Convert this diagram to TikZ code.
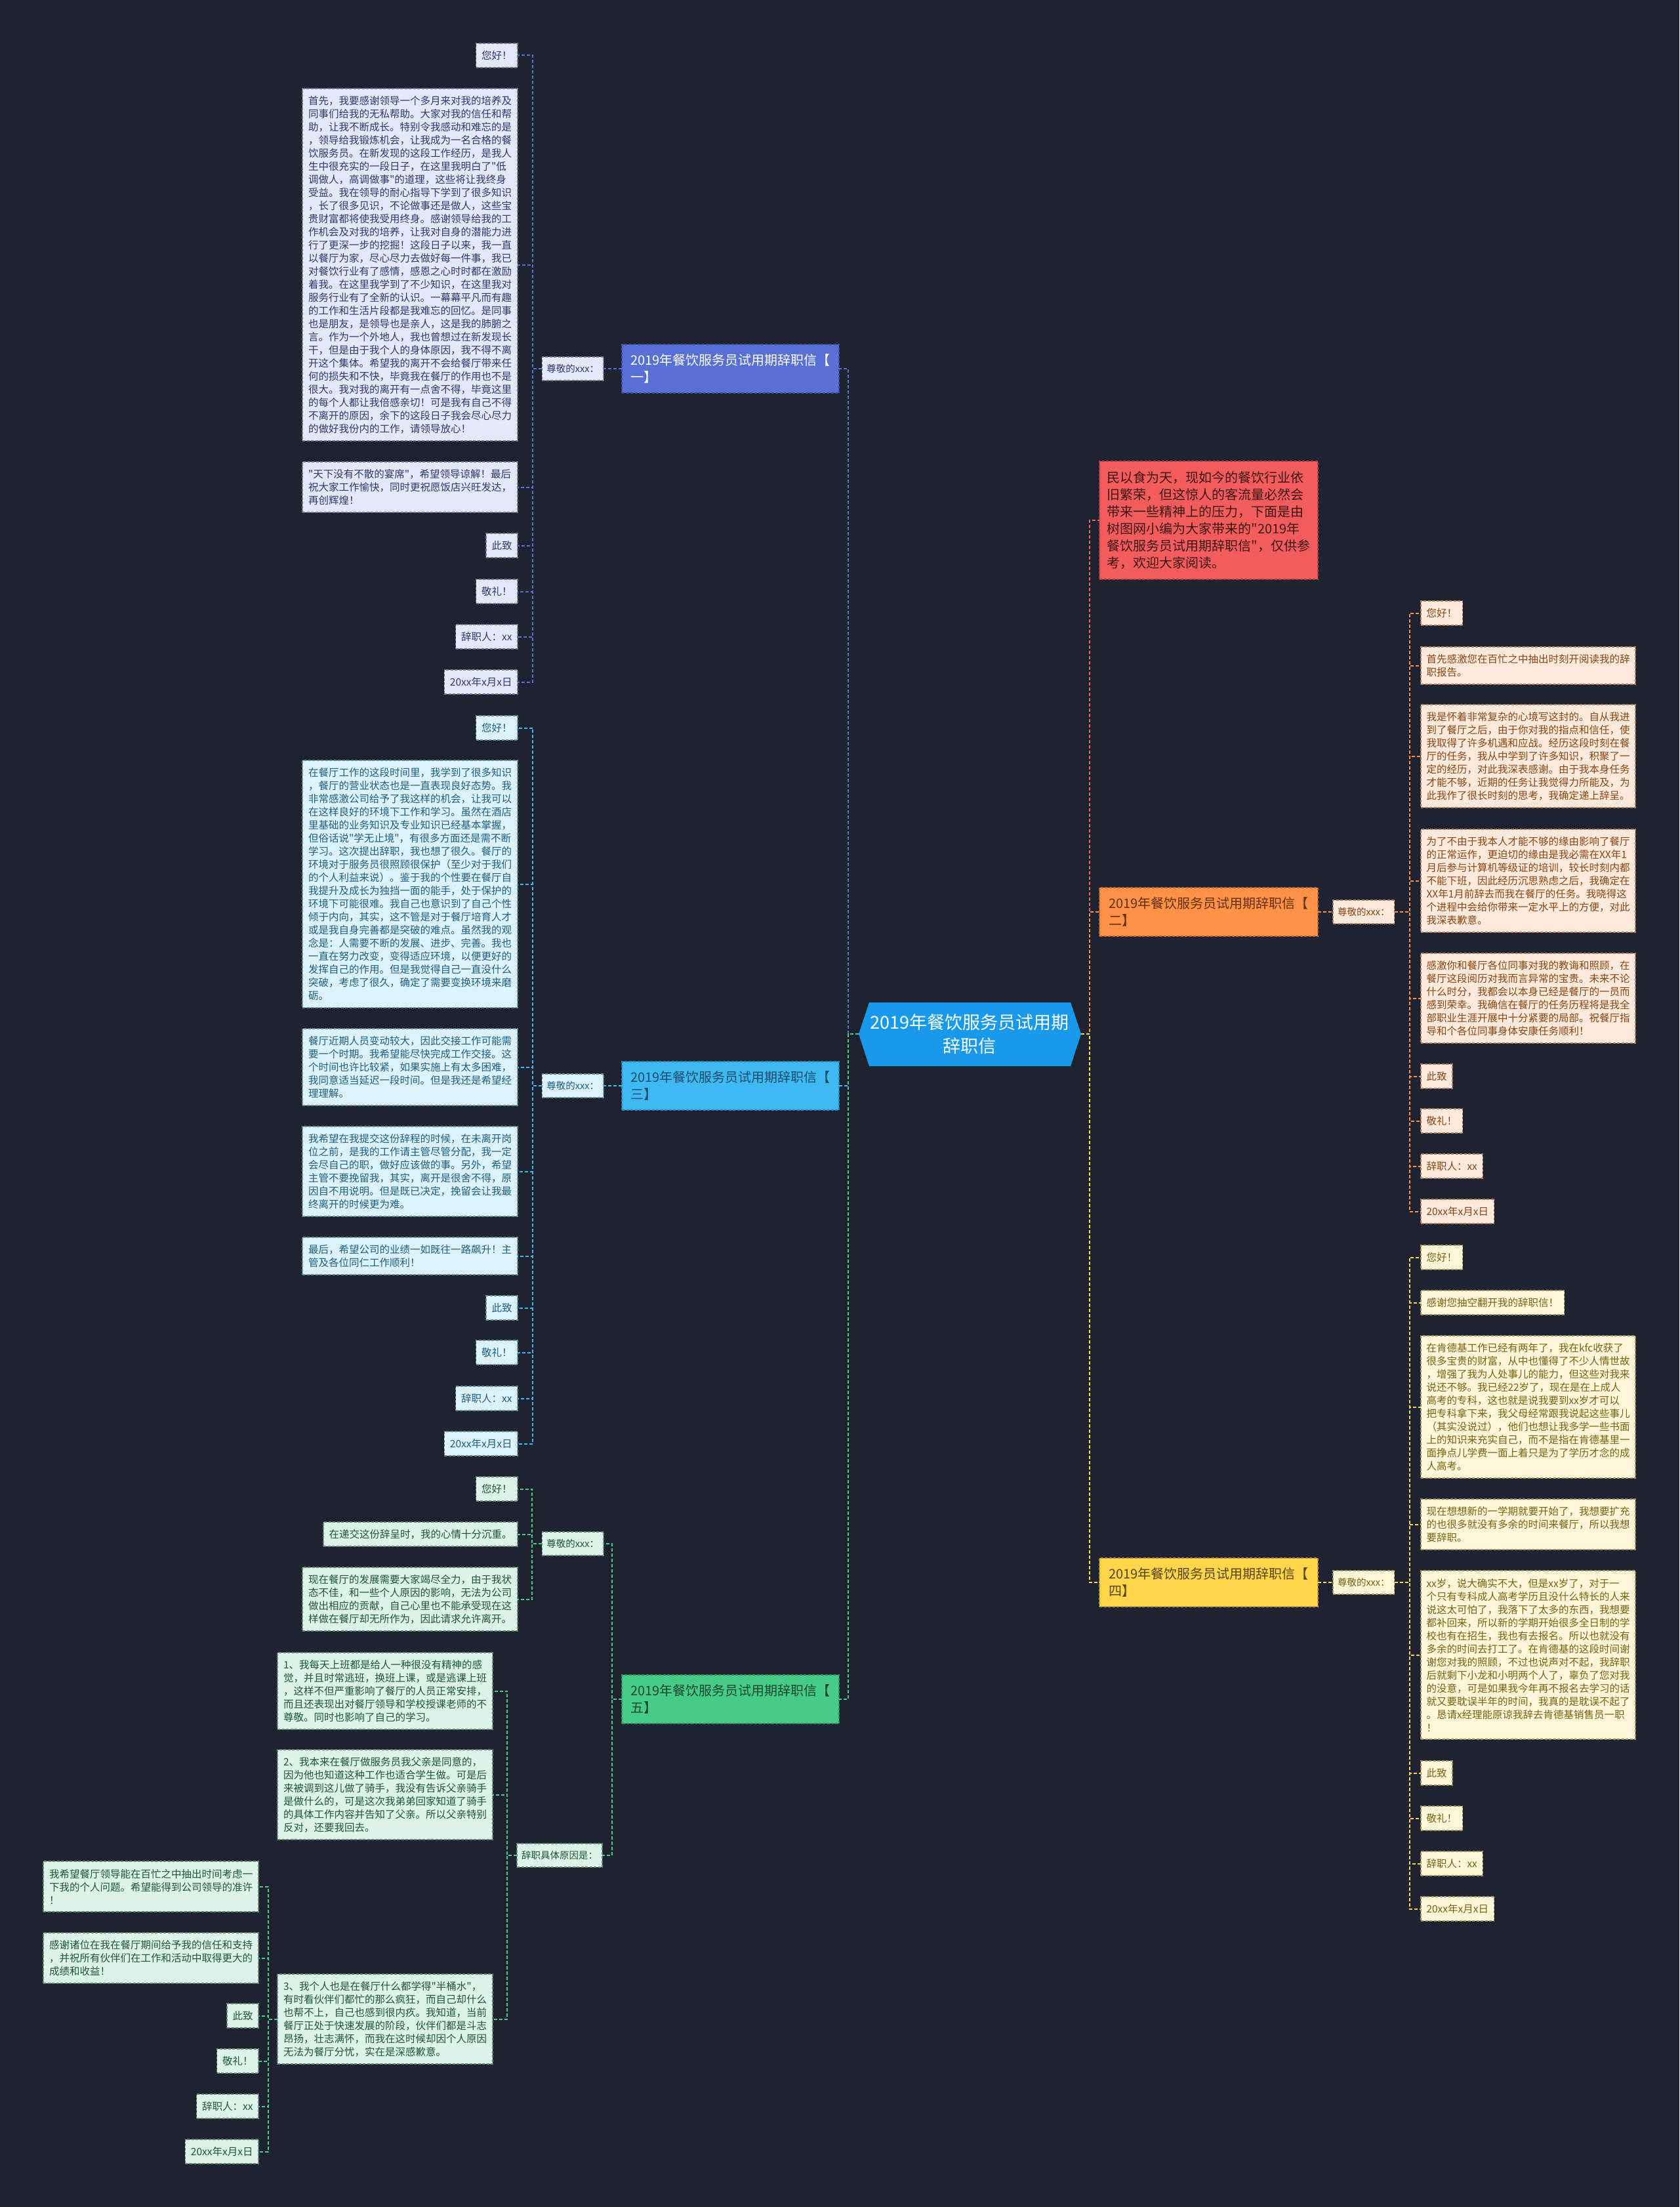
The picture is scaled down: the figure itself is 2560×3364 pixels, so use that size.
\documentclass[tikz,border=0pt]{standalone}
\usepackage{fontspec}
\setmainfont{Noto Sans CJK SC}
\newfontfamily\cjkf{Noto Sans CJK SC}
\definecolor{bg}{HTML}{1F2331}
\definecolor{ccenter}{HTML}{1899EB}
\definecolor{c1}{HTML}{586FD6}
\definecolor{c1leaf}{HTML}{E4E8F8}
\definecolor{c1text}{HTML}{2E3A70}
\definecolor{c3}{HTML}{3EB9F3}
\definecolor{c3leaf}{HTML}{DDF3FC}
\definecolor{c3text}{HTML}{1F5F80}
\definecolor{c5}{HTML}{45CC87}
\definecolor{c5leaf}{HTML}{DCF5E8}
\definecolor{c5text}{HTML}{1F5538}
\definecolor{cred}{HTML}{F25C5C}
\definecolor{credtext}{HTML}{3D1414}
\definecolor{c2}{HTML}{FF9247}
\definecolor{c2leaf}{HTML}{FDEADC}
\definecolor{c2text}{HTML}{8A4513}
\definecolor{c4}{HTML}{FFD64A}
\definecolor{c4leaf}{HTML}{FDF6D9}
\definecolor{c4text}{HTML}{7A6212}
\newcommand\mkleaf[7]{\node[#1,minimum width=#5pt,minimum height=#6pt] (#2) at (#3,#4) {#7};}
\begin{document}
\begin{tikzpicture}[x=1pt,y=-1pt,
  base/.style={draw, dash pattern=on 4pt off 2.5pt, line width=1.2pt, outer sep=0pt,
    inner xsep=8.5pt, inner ysep=3pt, align=left, font=\cjkf\fontsize{15.5}{20}\selectfont},
  Lone/.style={base, anchor=north east, fill=c1leaf, draw=c1text!70, text=c1text},
  Lthree/.style={base, anchor=north east, fill=c3leaf, draw=c3text!70, text=c3text},
  Lfive/.style={base, anchor=north east, fill=c5leaf, draw=c5text!70, text=c5text},
  Rtwo/.style={base, anchor=north west, fill=c2leaf, draw=c2text!70, text=c2text},
  Rfour/.style={base, anchor=north west, fill=c4leaf, draw=c4text!70, text=c4text},
  small/.style={base, font=\cjkf\fontsize{14.5}{18}\selectfont, minimum height=36pt, inner xsep=7pt},
  branch/.style={draw, dash pattern=on 4pt off 2.5pt, line width=1.2pt, outer sep=0pt,
    inner xsep=11pt, inner ysep=3pt, align=left, font=\cjkf\fontsize{20}{26}\selectfont,
    minimum width=331pt, minimum height=74pt},
  cn/.style={dash pattern=on 5pt off 3pt, line width=2pt},
]
\useasboundingbox (0,0) rectangle (2560,3364);
\fill[bg] (0,0) rectangle (2560,3364);

% ---------- center ----------
\fill[ccenter] (1325,1528) -- (1632,1528) -- (1648,1576) -- (1632,1625) -- (1325,1625) -- (1309,1576) -- cycle;
\node[minimum width=339pt, minimum height=97pt, inner sep=0pt, outer sep=0pt, align=center,
  text=white, font=\cjkf\fontsize{27}{36}\selectfont] (c) at (1478,1576) {2019年餐饮服务员试用期\\辞职信};

% ---------- branches ----------
\node[branch, anchor=north west, fill=c1, draw=c1!70!black, text=white] (b1) at (948,525) {2019年餐饮服务员试用期辞职信【\\一】};
\node[branch, anchor=north west, fill=c3, draw=c3!70!black, text=c3text!80!black] (b3) at (948,1618) {2019年餐饮服务员试用期辞职信【\\三】};
\node[branch, anchor=north west, fill=c5, draw=c5!70!black, text=c5text!80!black] (b5) at (948,2553) {2019年餐饮服务员试用期辞职信【\\五】};
\node[branch, anchor=north west, fill=c2, draw=c2!70!black, text=c2text!70!black, minimum width=333pt] (b2) at (1676,1353) {2019年餐饮服务员试用期辞职信【\\二】};
\node[branch, anchor=north west, fill=c4, draw=c4!70!black, text=c4text!70!black, minimum width=333pt] (b4) at (1676,2375) {2019年餐饮服务员试用期辞职信【\\四】};
\node[branch, anchor=north west, fill=cred, draw=cred!70!black, text=credtext, minimum width=333pt, minimum height=180pt] (red) at (1676,703) {民以食为天，现如今的餐饮行业依\\旧繁荣，但这惊人的客流量必然会\\带来一些精神上的压力，下面是由\\树图网小编为大家带来的"2019年\\餐饮服务员试用期辞职信"，仅供参\\考，欢迎大家阅读。};

% ---------- small intermediate nodes ----------
\node[small, anchor=east, fill=c1leaf, draw=c1text!70, text=c1text] (z1) at (920,562) {尊敬的xxx：};
\node[small, anchor=east, fill=c3leaf, draw=c3text!70, text=c3text] (z3) at (920,1655) {尊敬的xxx：};
\node[small, anchor=east, fill=c5leaf, draw=c5text!70, text=c5text] (z5) at (920,2353) {尊敬的xxx：};
\node[small, anchor=east, fill=c5leaf, draw=c5text!70, text=c5text] (why) at (918,2828) {辞职具体原因是：};
\node[small, anchor=west, fill=c2leaf, draw=c2text!70, text=c2text] (z2) at (2032,1390) {尊敬的xxx：};
\node[small, anchor=west, fill=c4leaf, draw=c4text!70, text=c4text] (z4) at (2032,2412) {尊敬的xxx：};

% ---------- branch one leaves ----------
\mkleaf{Lone}{na1}{789}{66}{0}{37}{您好！}
\mkleaf{Lone}{na2}{789}{135}{328}{537}{首先，我要感谢领导一个多月来对我的培养及\\同事们给我的无私帮助。大家对我的信任和帮\\助，让我不断成长。特别令我感动和难忘的是\\，领导给我锻炼机会，让我成为一名合格的餐\\饮服务员。在新发现的这段工作经历，是我人\\生中很充实的一段日子，在这里我明白了"低\\调做人，高调做事"的道理，这些将让我终身\\受益。我在领导的耐心指导下学到了很多知识\\，长了很多见识，不论做事还是做人，这些宝\\贵财富都将使我受用终身。感谢领导给我的工\\作机会及对我的培养，让我对自身的潜能力进\\行了更深一步的挖掘！这段日子以来，我一直\\以餐厅为家，尽心尽力去做好每一件事，我已\\对餐饮行业有了感情，感恩之心时时都在激励\\着我。在这里我学到了不少知识，在这里我对\\服务行业有了全新的认识。一幕幕平凡而有趣\\的工作和生活片段都是我难忘的回忆。是同事\\也是朋友，是领导也是亲人，这是我的肺腑之\\言。作为一个外地人，我也曾想过在新发现长\\干，但是由于我个人的身体原因，我不得不离\\开这个集体。希望我的离开不会给餐厅带来任\\何的损失和不快，毕竟我在餐厅的作用也不是\\很大。我对我的离开有一点舍不得，毕竟这里\\的每个人都让我倍感亲切！可是我有自己不得\\不离开的原因，余下的这段日子我会尽心尽力\\的做好我份内的工作，请领导放心！}
\mkleaf{Lone}{na3}{789}{704}{328}{77}{"天下没有不散的宴席"，希望领导谅解！最后\\祝大家工作愉快，同时更祝愿饭店兴旺发达，\\再创辉煌！}
\mkleaf{Lone}{na4}{789}{813}{0}{37}{此致}
\mkleaf{Lone}{na5}{789}{883}{0}{37}{敬礼！}
\mkleaf{Lone}{na6}{789}{952}{0}{37}{辞职人：xx}
\mkleaf{Lone}{na7}{789}{1021}{0}{37}{20xx年x月x日}

% ---------- branch three leaves ----------
\mkleaf{Lthree}{nc1}{789}{1091}{0}{37}{您好！}
\mkleaf{Lthree}{nc2}{789}{1159}{328}{377}{在餐厅工作的这段时间里，我学到了很多知识\\，餐厅的营业状态也是一直表现良好态势。我\\非常感激公司给予了我这样的机会，让我可以\\在这样良好的环境下工作和学习。虽然在酒店\\里基础的业务知识及专业知识已经基本掌握，\\但俗话说"学无止境"，有很多方面还是需不断\\学习。这次提出辞职，我也想了很久。餐厅的\\环境对于服务员很照顾很保护（至少对于我们\\的个人利益来说）。鉴于我的个性要在餐厅自\\我提升及成长为独挡一面的能手，处于保护的\\环境下可能很难。我自己也意识到了自己个性\\倾于内向，其实，这不管是对于餐厅培育人才\\或是我自身完善都是突破的难点。虽然我的观\\念是：人需要不断的发展、进步、完善。我也\\一直在努力改变，变得适应环境，以便更好的\\发挥自己的作用。但是我觉得自己一直没什么\\突破，考虑了很久，确定了需要变换环境来磨\\砺。}
\mkleaf{Lthree}{nc3}{789}{1568}{328}{117}{餐厅近期人员变动较大，因此交接工作可能需\\要一个时期。我希望能尽快完成工作交接。这\\个时间也许比较紧，如果实施上有太多困难，\\我同意适当延迟一段时间。但是我还是希望经\\理理解。}
\mkleaf{Lthree}{nc4}{789}{1717}{328}{137}{我希望在我提交这份辞程的时候，在未离开岗\\位之前，是我的工作请主管尽管分配，我一定\\会尽自己的职，做好应该做的事。另外，希望\\主管不要挽留我，其实，离开是很舍不得，原\\因自不用说明。但是既已决定，挽留会让我最\\终离开的时候更为难。}
\mkleaf{Lthree}{nc5}{789}{1886}{328}{57}{最后，希望公司的业绩一如既往一路飙升！主\\管及各位同仁工作顺利！}
\mkleaf{Lthree}{nc6}{789}{1975}{0}{37}{此致}
\mkleaf{Lthree}{nc7}{789}{2043}{0}{37}{敬礼！}
\mkleaf{Lthree}{nc8}{789}{2113}{0}{37}{辞职人：xx}
\mkleaf{Lthree}{nc9}{789}{2182}{0}{37}{20xx年x月x日}

% ---------- branch five leaves ----------
\mkleaf{Lfive}{ne1}{789}{2251}{0}{37}{您好！}
\mkleaf{Lfive}{ne2}{789}{2320}{0}{37}{在递交这份辞呈时，我的心情十分沉重。}
\mkleaf{Lfive}{ne3}{789}{2389}{328}{97}{现在餐厅的发展需要大家竭尽全力，由于我状\\态不佳，和一些个人原因的影响，无法为公司\\做出相应的贡献，自己心里也不能承受现在这\\样做在餐厅却无所作为，因此请求允许离开。}
\mkleaf{Lfive}{r1}{751}{2519}{328}{117}{1、我每天上班都是给人一种很没有精神的感\\觉，并且时常逃班，换班上课，或是逃课上班\\，这样不但严重影响了餐厅的人员正常安排，\\而且还表现出对餐厅领导和学校授课老师的不\\尊敬。同时也影响了自己的学习。}
\mkleaf{Lfive}{r2}{751}{2667}{328}{137}{2、我本来在餐厅做服务员我父亲是同意的，\\因为他也知道这种工作也适合学生做。可是后\\来被调到这儿做了骑手，我没有告诉父亲骑手\\是做什么的，可是这次我弟弟回家知道了骑手\\的具体工作内容并告知了父亲。所以父亲特别\\反对，还要我回去。}
\mkleaf{Lfive}{r3}{751}{3009}{328}{137}{3、我个人也是在餐厅什么都学得"半桶水"，\\有时看伙伴们都忙的那么疯狂，而自己却什么\\也帮不上，自己也感到很内疚。我知道，当前\\餐厅正处于快速发展的阶段，伙伴们都是斗志\\昂扬，壮志满怀，而我在这时候却因个人原因\\无法为餐厅分忧，实在是深感歉意。}
\mkleaf{Lfive}{g1}{394}{2837}{328}{77}{我希望餐厅领导能在百忙之中抽出时间考虑一\\下我的个人问题。希望能得到公司领导的准许\\！}
\mkleaf{Lfive}{g2}{394}{2946}{328}{77}{感谢诸位在我在餐厅期间给予我的信任和支持\\，并祝所有伙伴们在工作和活动中取得更大的\\成绩和收益！}
\mkleaf{Lfive}{g3}{394}{3054}{0}{37}{此致}
\mkleaf{Lfive}{g4}{394}{3123}{0}{37}{敬礼！}
\mkleaf{Lfive}{g5}{394}{3192}{0}{37}{辞职人：xx}
\mkleaf{Lfive}{g6}{394}{3261}{0}{37}{20xx年x月x日}

% ---------- branch two leaves ----------
\mkleaf{Rtwo}{o1}{2166}{916}{0}{37}{您好！}
\mkleaf{Rtwo}{o2}{2166}{986}{327}{57}{首先感激您在百忙之中抽出时刻开阅读我的辞\\职报告。}
\mkleaf{Rtwo}{o3}{2166}{1074}{327}{157}{我是怀着非常复杂的心境写这封的。自从我进\\到了餐厅之后，由于你对我的指点和信任，使\\我取得了许多机遇和应战。经历这段时刻在餐\\厅的任务，我从中学到了许多知识，积聚了一\\定的经历，对此我深表感谢。由于我本身任务\\才能不够，近期的任务让我觉得力所能及，为\\此我作了很长时刻的思考，我确定递上辞呈。}
\mkleaf{Rtwo}{o4}{2166}{1264}{327}{157}{为了不由于我本人才能不够的缘由影响了餐厅\\的正常运作，更迫切的缘由是我必需在XX年1\\月后参与计算机等级证的培训，较长时刻内都\\不能下班，因此经历沉思熟虑之后，我确定在\\XX年1月前辞去而我在餐厅的任务。我晓得这\\个进程中会给你带来一定水平上的方便，对此\\我深表歉意。}
\mkleaf{Rtwo}{o5}{2166}{1453}{327}{137}{感激你和餐厅各位同事对我的教诲和照顾，在\\餐厅这段阅历对我而言异常的宝贵。未来不论\\什么时分，我都会以本身已经是餐厅的一员而\\感到荣幸。我确信在餐厅的任务历程将是我全\\部职业生涯开展中十分紧要的局部。祝餐厅指\\导和个各位同事身体安康任务顺利！}
\mkleaf{Rtwo}{o6}{2166}{1622}{0}{37}{此致}
\mkleaf{Rtwo}{o7}{2166}{1690}{0}{37}{敬礼！}
\mkleaf{Rtwo}{o8}{2166}{1759}{0}{37}{辞职人：xx}
\mkleaf{Rtwo}{o9}{2166}{1828}{0}{37}{20xx年x月x日}

% ---------- branch four leaves ----------
\mkleaf{Rfour}{y1}{2166}{1898}{0}{37}{您好！}
\mkleaf{Rfour}{y2}{2166}{1967}{0}{37}{感谢您抽空翻开我的辞职信！}
\mkleaf{Rfour}{y3}{2166}{2036}{327}{217}{在肯德基工作已经有两年了，我在kfc收获了\\很多宝贵的财富，从中也懂得了不少人情世故\\，增强了我为人处事儿的能力，但这些对我来\\说还不够。我已经22岁了，现在是在上成人\\高考的专科，这也就是说我要到xx岁才可以\\把专科拿下来，我父母经常跟我说起这些事儿\\（其实没说过），他们也想让我多学一些书面\\上的知识来充实自己，而不是指在肯德基里一\\面挣点儿学费一面上着只是为了学历才念的成\\人高考。}
\mkleaf{Rfour}{y4}{2166}{2285}{327}{77}{现在想想新的一学期就要开始了，我想要扩充\\的也很多就没有多余的时间来餐厅，所以我想\\要辞职。}
\mkleaf{Rfour}{y5}{2166}{2394}{327}{257}{xx岁，说大确实不大，但是xx岁了，对于一\\个只有专科成人高考学历且没什么特长的人来\\说这太可怕了，我落下了太多的东西，我想要\\都补回来，所以新的学期开始很多全日制的学\\校也有在招生，我也有去报名。所以也就没有\\多余的时间去打工了。在肯德基的这段时间谢\\谢您对我的照顾，不过也说声对不起，我辞职\\后就剩下小龙和小明两个人了，辜负了您对我\\的没意，可是如果我今年再不报名去学习的话\\就又要耽误半年的时间，我真的是耽误不起了\\。恳请x经理能原谅我辞去肯德基销售员一职\\！}
\mkleaf{Rfour}{y6}{2166}{2684}{0}{37}{此致}
\mkleaf{Rfour}{y7}{2166}{2753}{0}{37}{敬礼！}
\mkleaf{Rfour}{y8}{2166}{2822}{0}{37}{辞职人：xx}
\mkleaf{Rfour}{y9}{2166}{2891}{0}{37}{20xx年x月x日}

% ---------- connectors ----------
\draw[cn, c1] (c.west) -- ++(-16,0) |- (b1.east);
\draw[cn, c3] (c.west) -- ++(-16,0) |- (b3.east);
\draw[cn, c5] (c.west) -- ++(-16,0) |- (b5.east);
\draw[cn, cred] (c.east) -- ++(13,0) |- (red.west);
\draw[cn, c2] (c.east) -- ++(13,0) |- (b2.west);
\draw[cn, c4] (c.east) -- ++(13,0) |- (b4.west);

\draw[cn, c1] (b1.west) -- (z1.east);
\foreach \n in {na1,na2,na3,na4,na5,na6,na7} \draw[cn, c1] (z1.west) -- ++(-14,0) |- (\n.east);
\draw[cn, c3] (b3.west) -- (z3.east);
\foreach \n in {nc1,nc2,nc3,nc4,nc5,nc6,nc7,nc8,nc9} \draw[cn, c3] (z3.west) -- ++(-14,0) |- (\n.east);
\draw[cn, c5] (b5.west) -- ++(-15,0) |- (z5.east);
\draw[cn, c5] (b5.west) -- ++(-15,0) |- (why.east);
\foreach \n in {ne1,ne2,ne3} \draw[cn, c5] (z5.west) -- ++(-15,0) |- (\n.east);
\foreach \n in {r1,r2,r3} \draw[cn, c5] (why.west) -- ++(-15,0) |- (\n.east);
\foreach \n in {g1,g2,g3,g4,g5,g6} \draw[cn, c5] (r3.west) -- ++(-14,0) |- (\n.east);

\draw[cn, c2] (b2.east) -- (z2.west);
\foreach \n in {o1,o2,o3,o4,o5,o6,o7,o8,o9} \draw[cn, c2] (z2.east) -- ++(23,0) |- (\n.west);
\draw[cn, c4] (b4.east) -- (z4.west);
\foreach \n in {y1,y2,y3,y4,y5,y6,y7,y8,y9} \draw[cn, c4] (z4.east) -- ++(23,0) |- (\n.west);
\end{tikzpicture}
\end{document}
